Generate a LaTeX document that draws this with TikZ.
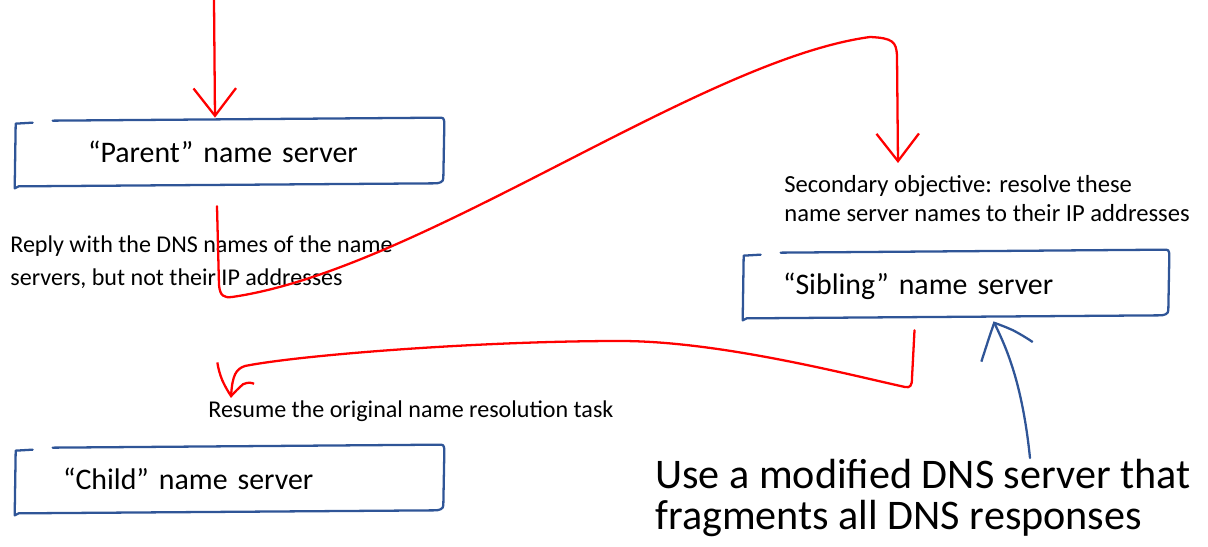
\documentclass[tikz,border=0pt]{standalone}
\usepackage{fontspec}
\setmainfont{Carlito}
\usetikzlibrary{arrows.meta,bending}

\definecolor{sketchblue}{RGB}{47,85,151}

\tikzset{
  boxline/.style={draw=sketchblue, line width=1.3pt, line cap=round, line join=round},
  redarrow/.style={draw=red, line width=1.3pt, line cap=round, line join=round,
    -{Straight Barb[length=0.55cm, width=0.85cm, bend]}},
}

% hand drawn outline round a server node
\newcommand{\sketchbox}[1]{%
  \draw[boxline] ([shift={(38,1)}]#1.north west) -- ([shift={(-2,-2)}]#1.north east)
    to[out=0,in=90] ([shift={(1,6)}]#1.north east) -- ([shift={(0,-8)}]#1.south east)
    to[out=-90,in=0] ([shift={(-8,-3)}]#1.south east) -- ([shift={(4,0)}]#1.south west)
    -- ([shift={(0,2)}]#1.south west) -- ([shift={(1,4)}]#1.north west)
    -- ([shift={(18,3)}]#1.north west);}

\begin{document}
\begin{tikzpicture}[x=0.02cm, y=-0.02cm,
  server/.style={minimum height=1.32cm, inner ysep=0pt, align=left, text height=0.5cm, text depth=0.12cm,
    font=\fontsize{17}{20}\selectfont},
  note/.style={anchor=north west, inner sep=0pt, align=left, font=\fontsize{13.7}{18.8}\selectfont}]
  \useasboundingbox (0,0) rectangle (1208,547);

  % name servers
  \node[server, text width=5.64cm, inner xsep=1.46cm] (parent) at (229,153) {``Parent'' name server};
  \node[server, text width=6.9cm, inner xsep=0.8cm] (sibling) at (955.5,285) {``Sibling'' name server};
  \node[server, text width=6.64cm, inner xsep=0.96cm] (child) at (229,480) {``Child'' name server};
  \foreach \b in {parent,sibling,child}{
    \sketchbox{\b}
  }

  % notes
  \node[note] (reply) at (10,235) {Reply with the DNS names of the name\\servers, but not their IP addresses};
  \node[note, font=\fontsize{14}{16.8}\selectfont] (second) at (784,175) {Secondary objective: resolve these\\name server names to their IP addresses};
  \node[note] (resume) at (208,400) {Resume the original name resolution task};
  \node[note, font=\fontsize{24}{23.5}\selectfont] (fragment) at (655,459) {Use a modified DNS server that\\fragments all DNS responses};

  % resolution steps
  \coordinate (query) at (214,0);
  \draw[redarrow] (query) -- ([shift={(-14,-2)}]parent.north);
  \draw[redarrow] ([shift={(-12,20)}]parent.south) -- (219,285) .. controls (220,296) and (224,298) .. (232,297)
    .. controls (420,270) and (700,60) .. (870,37) .. controls (893,38) and (896,42) .. (897,55)
    -- ([shift={(114,-12)}]second.north west);
  \draw[redarrow] ([shift={(-41,12)}]sibling.south) -- (912,378) .. controls (912,386) and (910,388) .. (905,387)
    .. controls (850,375) and (720,341) .. (620,341) .. controls (480,341) and (300,355) .. (245,366)
    .. controls (236,369) and (232,375) .. ([shift={(23,-2)}]resume.north west);
  \draw[boxline, -{Straight Barb[length=0.55cm, width=1.1cm, bend]}] ([shift={(375,-1)}]fragment.north west)
    .. controls (1022,380) and (1005,345) .. ([shift={(38,3)}]sibling.south);
\end{tikzpicture}
\end{document}
